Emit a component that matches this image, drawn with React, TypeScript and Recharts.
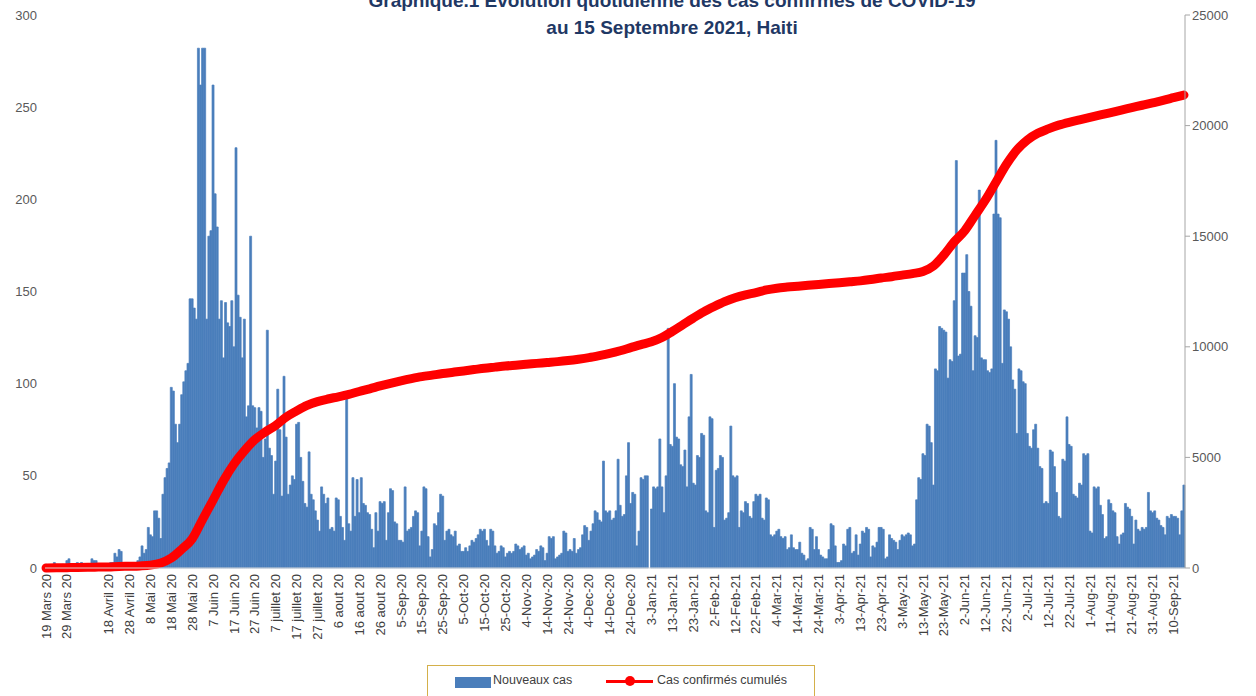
import React from 'react';
import { ComposedChart, Bar, Line, XAxis, YAxis } from 'recharts';

// nouveaux cas par jour, du 19 mars 2020 au 15 septembre 2021
const casesMar2020 = [2, 1, 0, 1, 3, 2, 1, 0, 2, 1, 4, 5, 2];
const casesApr2020 = [1, 2, 3, 2, 3, 1, 2, 1, 2, 5, 4, 4, 2, 1, 2, 1, 2, 1, 3, 3, 8, 6, 10, 9, 2, 1, 3, 2, 1, 3];
const casesMay2020 = [2, 4, 6, 12, 8, 10, 22, 18, 17, 31, 31, 27, 16, 40, 49, 54, 57, 98, 96, 78, 68, 78, 94, 101, 107, 111, 146, 146, 141, 135, 282];
const casesJun2020 = [262, 282, 282, 135, 180, 183, 262, 203, 185, 135, 145, 114, 144, 133, 131, 145, 120, 228, 148, 136, 114, 135, 82, 88, 180, 88, 87, 76, 87, 85];
const casesJul2020 = [60, 70, 129, 65, 61, 40, 58, 97, 75, 39, 104, 71, 40, 45, 50, 48, 78, 79, 60, 47, 35, 33, 63, 40, 37, 31, 26, 20, 44, 40, 35];
const casesAug2020 = [38, 21, 22, 20, 38, 37, 28, 22, 15, 92, 24, 20, 49, 28, 48, 30, 49, 35, 34, 30, 29, 21, 11, 30, 20, 36, 35, 36, 15, 30, 43];
const casesSep2020 = [42, 25, 24, 15, 15, 14, 44, 20, 21, 22, 28, 31, 30, 12, 20, 44, 43, 17, 6, 10, 24, 23, 30, 40, 39, 15, 20, 21, 18, 17];
const casesOct2020 = [20, 12, 13, 9, 9, 11, 9, 12, 15, 14, 16, 18, 21, 20, 21, 15, 12, 21, 20, 12, 8, 9, 12, 11, 6, 8, 9, 8, 9, 13, 12];
const casesNov2020 = [10, 11, 12, 7, 8, 5, 6, 7, 10, 9, 12, 11, 4, 8, 17, 16, 17, 5, 6, 7, 8, 20, 19, 9, 10, 9, 16, 8, 10, 11];
const casesDec2020 = [18, 23, 22, 15, 20, 24, 31, 30, 26, 25, 58, 31, 30, 31, 26, 27, 31, 59, 34, 28, 29, 50, 68, 35, 41, 40, 12, 20, 49, 48, 50];
const casesJan2021 = [50, 0, 32, 44, 43, 44, 70, 44, 30, 50, 130, 67, 66, 100, 71, 70, 56, 55, 64, 44, 82, 105, 46, 45, 61, 60, 73, 72, 31, 30, 82];
const casesFeb2021 = [81, 22, 53, 54, 61, 60, 26, 27, 30, 77, 50, 49, 50, 22, 31, 30, 36, 35, 28, 27, 36, 40, 39, 40, 27, 26, 38, 37];
const casesMar2021 = [18, 17, 18, 20, 21, 17, 16, 17, 10, 11, 18, 11, 10, 10, 14, 8, 7, 4, 5, 22, 21, 10, 17, 10, 7, 6, 5, 5, 10, 24, 23];
const casesApr2021 = [12, 3, 3, 4, 13, 12, 21, 22, 8, 9, 18, 7, 13, 20, 19, 22, 21, 6, 12, 11, 14, 22, 22, 21, 5, 6, 18, 16, 15, 14];
const casesMay2021 = [10, 15, 18, 17, 18, 19, 18, 12, 13, 37, 49, 48, 62, 61, 78, 77, 68, 45, 108, 107, 131, 130, 129, 128, 103, 113, 112, 145, 221, 115, 116];
const casesJun2021 = [160, 160, 170, 150, 142, 107, 126, 125, 205, 114, 113, 113, 107, 106, 108, 192, 232, 192, 190, 111, 140, 139, 135, 120, 102, 97, 73, 108, 107, 101];
const casesJul2021 = [100, 73, 66, 65, 75, 78, 65, 55, 54, 35, 36, 35, 64, 63, 55, 41, 28, 27, 59, 58, 82, 67, 66, 40, 39, 38, 46, 45, 62, 61, 62];
const casesAug2021 = [20, 19, 44, 43, 44, 34, 29, 16, 17, 37, 35, 31, 30, 17, 13, 18, 19, 35, 33, 32, 28, 13, 26, 21, 20, 22, 21, 22, 41, 31, 30];
const casesSep2021 = [31, 27, 26, 23, 22, 18, 28, 27, 29, 28, 28, 27, 18, 31, 45];

// cas confirmés cumulés, un point tous les 5 jours (jour 0, 5, 10, ...)
const cumul2020 = [
  2, 8, 16, 24, 30, 40, 50, 70, 80, 95,
  130, 230, 450, 850, 1320, 2200, 3070, 3950, 4700, 5300,
  5800, 6150, 6450, 6820, 7100, 7350, 7520, 7640, 7740, 7850,
  7980, 8100, 8230, 8350, 8460, 8560, 8650, 8720, 8790, 8850,
  8910, 8970, 9030, 9080, 9130, 9170, 9210, 9250, 9290, 9330,
  9380, 9440, 9510, 9600, 9700, 9820, 9960, 10100,
];
const cumul2021 = [
  10230, 10420,
  10700, 11000, 11300, 11580, 11820, 12040, 12220, 12350, 12450, 12570,
  12650, 12700, 12740, 12780, 12820, 12860, 12900, 12940, 12980, 13040,
  13110, 13170, 13240, 13310, 13400, 13650, 14150, 14750, 15250, 15950,
  16650, 17450, 18250, 18900, 19350, 19650, 19850, 20020, 20150, 20260,
  20370, 20480, 20590, 20700, 20810, 20920, 21030, 21140, 21260, 21380,
];

// libellés de l'axe des dates, un tous les 10 jours
const dateLabels = [
  '19 Mars 20', '29 Mars 20', '', '18 Avril 20', '28 Avril 20', '8 Mai 20', '18 Mai 20', '28 Mai 20',
  '7 Juin 20', '17 Juin 20', '27 Juin 20', '7 juillet 20', '17 juillet 20', '27 juillet 20',
  '6 aout 20', '16 aout 20', '26 aout 20', '5-Sep-20', '15-Sep-20', '25-Sep-20', '5-Oct-20',
  '15-Oct-20', '25-Oct-20', '4-Nov-20', '14-Nov-20', '24-Nov-20', '4-Dec-20', '14-Dec-20',
  '24-Dec-20', '3-Jan-21', '13-Jan-21', '23-Jan-21', '2-Feb-21', '12-Feb-21', '22-Feb-21',
  '4-Mar-21', '14-Mar-21', '24-Mar-21', '3-Apr-21', '13-Apr-21', '23-Apr-21', '3-May-21',
  '13-May-21', '23-May-21', '2-Jun-21', '12-Jun-21', '22-Jun-21', '2-Jul-21', '12-Jul-21',
  '22-Jul-21', '1-Aug-21', '11-Aug-21', '21-Aug-21', '31-Aug-21', '10-Sep-21',
];

const leftTicks = [0, 50, 100, 150, 200, 250, 300];
const rightTicks = [0, 5000, 10000, 15000, 20000, 25000];

const dailyCases = [
  ...casesMar2020, ...casesApr2020, ...casesMay2020, ...casesJun2020, ...casesJul2020,
  ...casesAug2020, ...casesSep2020, ...casesOct2020, ...casesNov2020, ...casesDec2020,
  ...casesJan2021, ...casesFeb2021, ...casesMar2021, ...casesApr2021, ...casesMay2021,
  ...casesJun2021, ...casesJul2021, ...casesAug2021, ...casesSep2021,
];
const cumulative = [...cumul2020, ...cumul2021];

const rows = dailyCases.map((v, i) => ({
  day: i,
  cases: v,
  cumul: i % 5 === 0 && cumulative[i / 5] !== undefined ? cumulative[i / 5] : null,
}));

const FONT = '"Liberation Sans", Arial, sans-serif';
const BLUE = '#4A7EBB';

const DateTick = (props: any) => {
  const { x, y, payload } = props;
  const idx = payload.value;
  if (idx % 10 !== 0) return null;
  const label = dateLabels[idx / 10];
  if (!label) return null;
  return (
    <text
      x={x}
      y={y - 2}
      transform={`rotate(-90 ${x} ${y - 2})`}
      textAnchor="end"
      dy="0.35em"
      fontSize={13}
      fontFamily={FONT}
      fill="#404040"
    >
      {label}
    </text>
  );
};

export default function App() {
  return (
    <div style={{ position: 'absolute', left: 0, top: 0, width: 1256, height: 696, overflow: 'hidden', background: '#fff', fontFamily: FONT }}>
      <div
        style={{
          position: 'absolute', left: 272, top: -13, width: 800, textAlign: 'center',
          color: '#1F3864', fontWeight: 700, fontSize: 19, lineHeight: '27px',
        }}
      >
        Graphique.1 Evolution quotidienne des cas confirmés de COVID-19
        <br />
        au 15 Septembre 2021, Haiti
      </div>

      <ComposedChart
        width={1256}
        height={696}
        data={rows}
        margin={{ top: 15, right: 0, bottom: 38, left: 0 }}
        barCategoryGap={0}
        barGap={0}
      >
        <XAxis
          dataKey="day"
          interval={9}
          height={90}
          tick={<DateTick />}
          tickLine={false}
          axisLine={{ stroke: '#d9d9d9' }}
        />
        <YAxis
          yAxisId="left"
          width={45}
          domain={[0, 300]}
          ticks={leftTicks}
          axisLine={false}
          tickLine={false}
          tick={{ fontSize: 13, fill: '#595959', fontFamily: FONT }}
        />
        <YAxis
          yAxisId="right"
          orientation="right"
          width={71}
          domain={[0, 25000]}
          ticks={rightTicks}
          axisLine={{ stroke: '#a6a6a6' }}
          tickLine={{ stroke: '#a6a6a6' }}
          tickSize={5}
          tick={{ fontSize: 13, fill: '#595959', fontFamily: FONT }}
        />
        <Bar yAxisId="left" dataKey="cases" fill={BLUE} stroke={BLUE} strokeWidth={0.7} isAnimationActive={false} />
        <Line
          yAxisId="right"
          dataKey="cumul"
          type="monotone"
          stroke="#FF0000"
          strokeWidth={9}
          strokeLinecap="round"
          strokeLinejoin="round"
          dot={false}
          connectNulls
          isAnimationActive={false}
        />
      </ComposedChart>

      <div
        style={{
          position: 'absolute', left: 427, top: 665, width: 388, height: 40,
          border: '1.5px solid #D4B04A', boxSizing: 'border-box', background: '#fff',
        }}
      >
        <div style={{ position: 'absolute', left: 27, top: 11, width: 36, height: 11, background: BLUE }} />
        <div style={{ position: 'absolute', left: 65, top: 7, fontSize: 12.5, color: '#404040' }}>Nouveaux cas</div>
        <div style={{ position: 'absolute', left: 178, top: 14, width: 47, height: 3, background: '#FF0000' }} />
        <div style={{ position: 'absolute', left: 197, top: 10, width: 10, height: 10, borderRadius: 5, background: '#FF0000' }} />
        <div style={{ position: 'absolute', left: 229, top: 7, fontSize: 12.5, color: '#404040' }}>Cas confirmés cumulés</div>
      </div>
    </div>
  );
}
